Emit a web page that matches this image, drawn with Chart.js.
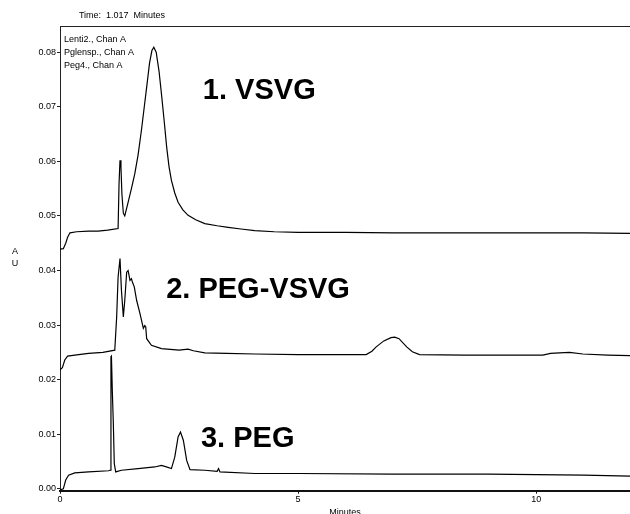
<!DOCTYPE html>
<html>
<head>
<meta charset="utf-8">
<script src="https://cdn.jsdelivr.net/npm/chart.js@4/dist/chart.umd.min.js"></script>
<style>
	html, body { margin: 0; padding: 0; background: #fff; }
	#chart { display: block; }
</style>
</head>
<body>
<canvas id="chart" width="630" height="514"></canvas>
<script>
// Chromatogram data (minutes / AU)
// ================================================================================
let series_names = ["Lenti2., Chan A", "Pglensp., Chan A", "Peg4., Chan A"];
let peak_names = ["1. VSVG", "2. PEG-VSVG", "3. PEG"];

let vsvg_times = [0.00, 0.07, 0.12, 0.16, 0.21, 0.35, 0.60, 0.80, 1.00, 1.22,
	1.24, 1.26, 1.28, 1.30, 1.33, 1.36, 1.43, 1.50, 1.57, 1.64,
	1.71, 1.77, 1.82, 1.88, 1.93, 1.97, 2.02, 2.08, 2.13, 2.19,
	2.24, 2.29, 2.34, 2.41, 2.48, 2.58, 2.69, 2.85, 3.04, 3.30,
	3.53, 3.80, 4.09, 4.50, 5.00, 6.00, 7.00, 8.00, 9.00, 10.00,
	11.00, 12.00];
let vsvg_values = [0.0439, 0.0440, 0.0450, 0.0461, 0.0469, 0.0471, 0.0472, 0.0472, 0.0474, 0.0477,
	0.0560, 0.0602, 0.0590, 0.0540, 0.0505, 0.0500, 0.0525, 0.0550, 0.0577, 0.0612,
	0.0657, 0.0700, 0.0736, 0.0780, 0.0803, 0.0809, 0.0800, 0.0765, 0.0724, 0.0672,
	0.0626, 0.0590, 0.0565, 0.0542, 0.0525, 0.0511, 0.0501, 0.0493, 0.0486, 0.0482,
	0.0479, 0.0476, 0.0473, 0.0471, 0.0470, 0.0470, 0.0469, 0.0469, 0.0469, 0.0469,
	0.0469, 0.0468];

let peg_vsvg_times = [0.00, 0.05, 0.10, 0.16, 0.31, 0.60, 0.90, 1.15, 1.19, 1.22,
	1.26, 1.29, 1.33, 1.36, 1.40, 1.43, 1.47, 1.50, 1.52, 1.56,
	1.61, 1.68, 1.75, 1.78, 1.80, 1.82, 1.92, 2.13, 2.50, 2.69,
	2.80, 3.04, 3.50, 4.09, 5.00, 6.00, 6.43, 6.55, 6.64, 6.80,
	6.95, 7.03, 7.12, 7.28, 7.40, 7.55, 8.50, 9.50, 10.14, 10.30,
	10.49, 10.70, 10.98, 11.50, 12.00];
let peg_vsvg_values = [0.0218, 0.0222, 0.0236, 0.0243, 0.0245, 0.0248, 0.0250, 0.0254, 0.0315, 0.0388,
	0.0422, 0.0364, 0.0315, 0.0345, 0.0397, 0.0400, 0.0382, 0.0385, 0.0379, 0.0370,
	0.0345, 0.0321, 0.0294, 0.0299, 0.0297, 0.0275, 0.0263, 0.0257, 0.0254, 0.0256,
	0.0253, 0.0249, 0.0248, 0.0247, 0.0246, 0.0246, 0.0246, 0.0252, 0.0260, 0.0271,
	0.0277, 0.0278, 0.0275, 0.0260, 0.0251, 0.0246, 0.0245, 0.0245, 0.0245, 0.0248,
	0.0249, 0.0250, 0.0247, 0.0245, 0.0244];

let peg_times = [0.00, 0.07, 0.12, 0.18, 0.31, 0.60, 1.02, 1.05, 1.07, 1.08,
	1.10, 1.12, 1.14, 1.17, 1.29, 1.64, 1.99, 2.13, 2.20, 2.34,
	2.41, 2.48, 2.53, 2.59, 2.66, 2.73, 3.04, 3.30, 3.33, 3.36,
	4.09, 5.00, 7.00, 9.00, 10.00, 11.00, 12.00];
let peg_values = [-0.0002, 0.0000, 0.0016, 0.0025, 0.0029, 0.0031, 0.0033, 0.0034, 0.0242, 0.0243,
	0.0175, 0.0120, 0.0046, 0.0031, 0.0034, 0.0037, 0.0040, 0.0043, 0.0041, 0.0037,
	0.0058, 0.0095, 0.0104, 0.0089, 0.0052, 0.0035, 0.0034, 0.0032, 0.0037, 0.0031,
	0.0028, 0.0028, 0.0027, 0.0027, 0.0026, 0.0025, 0.0023];

let x_tick_values = [0, 5, 10];
let y_tick_values = [0.00, 0.01, 0.02, 0.03, 0.04, 0.05, 0.06, 0.07, 0.08];

let to_points = (times, values) => times.map((t, i) => ({x: t, y: values[i]}));

// Helpers
// ================================================================================
const FONT = '"Liberation Sans", Arial, sans-serif';

// labels and frame text drawn on top of the chart
let annotations_plugin = {
	id: 'annotations',
	afterDraw(chart, args, opts) {
		let ctx = chart.ctx;
		let area = chart.chartArea;
		let xs = chart.scales.x;
		let ys = chart.scales.y;
		ctx.save();

		// top frame line
		ctx.strokeStyle = '#222';
		ctx.lineWidth = 1;
		ctx.beginPath();
		ctx.moveTo(area.left, area.top + 0.5);
		ctx.lineTo(area.right, area.top + 0.5);
		ctx.stroke();

		ctx.fillStyle = '#000';
		ctx.font = '9px ' + FONT;
		ctx.textBaseline = 'middle';
		ctx.textAlign = 'center';
		ctx.fillText('Time:  1.017  Minutes', 122, 16);

		// series names, top left inside the plot
		ctx.textAlign = 'left';
		series_names.forEach((name, i) => {
			ctx.fillText(name, area.left + 4, 40 + i * 12.8);
		});

		// AU stacked
		ctx.textAlign = 'center';
		ctx.fillText('A', 15, 252);
		ctx.fillText('U', 15, 264);

		ctx.textBaseline = 'top';
		ctx.fillText('Minutes', (area.left + area.right) / 2, 508);

		// peak names
		ctx.font = 'bold 29px ' + FONT;
		ctx.textAlign = 'left';
		ctx.textBaseline = 'alphabetic';
		opts.anchors.forEach((a, i) => {
			ctx.fillText(peak_names[i], xs.getPixelForValue(a[0]), ys.getPixelForValue(a[1]));
		});
		ctx.restore();
	}
};

let line_style = {
	borderColor: '#000',
	borderWidth: 1.2,
	pointRadius: 0,
	tension: 0,
	fill: false
};

new Chart(document.getElementById('chart'), {
	type: 'line',
	data: {
		datasets: [
			Object.assign({label: series_names[0], data: to_points(vsvg_times, vsvg_values)}, line_style),
			Object.assign({label: series_names[1], data: to_points(peg_vsvg_times, peg_vsvg_values)}, line_style),
			Object.assign({label: series_names[2], data: to_points(peg_times, peg_values)}, line_style)
		]
	},
	options: {
		responsive: false,
		animation: false,
		devicePixelRatio: 1,
		layout: {padding: {top: 26, left: 0, right: 0, bottom: 0}},
		plugins: {
			legend: {display: false},
			tooltip: {enabled: false},
			annotations: {
				anchors: [[3.0, 0.0714], [2.23, 0.0350], [2.96, 0.0076]]
			}
		},
		scales: {
			x: {
				type: 'linear',
				min: 0,
				max: 11.97,
				afterBuildTicks: (scale) => { scale.ticks = x_tick_values.map(v => ({value: v})); },
				afterFit: (scale) => { scale.height = 23.3; },
				border: {display: true, color: '#111', width: 2},
				grid: {drawOnChartArea: false, drawTicks: true, tickLength: 3, color: '#111'},
				ticks: {
					color: '#000',
					padding: 0,
					maxRotation: 0,
					font: {family: FONT, size: 9},
					callback: (v) => String(v)
				}
			},
			y: {
				min: -0.00035,
				max: 0.0848,
				afterBuildTicks: (scale) => { scale.ticks = y_tick_values.map(v => ({value: v})); },
				afterFit: (scale) => { scale.width = 60; },
				border: {display: true, color: '#222', width: 1},
				grid: {drawOnChartArea: false, drawTicks: true, tickLength: 3, color: '#222'},
				ticks: {
					color: '#000',
					padding: 1,
					font: {family: FONT, size: 9},
					callback: (v) => v.toFixed(2)
				}
			}
		}
	},
	plugins: [annotations_plugin]
});
</script>
</body>
</html>
